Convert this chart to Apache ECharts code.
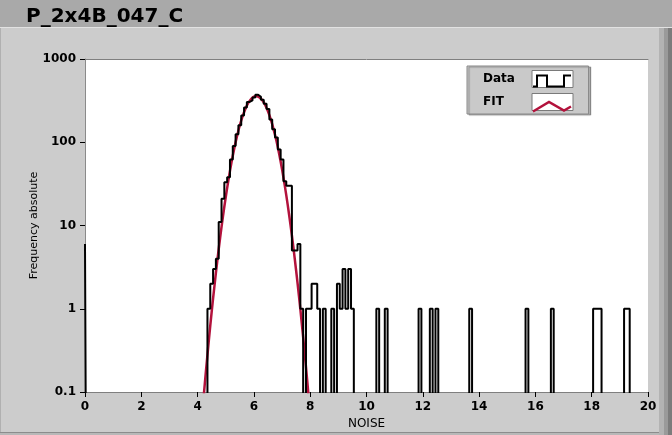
<!DOCTYPE html>
<html><head><meta charset="utf-8">
<script src="https://cdn.jsdelivr.net/npm/echarts@6/dist/echarts.min.js"></script>
<style>html,body{margin:0;padding:0;background:#cccccc}#c{width:672px;height:435px}</style>
</head><body><div id="c"></div><script>
const chartTitle = 'P_2x4B_047_C';
const xAxisName = 'NOISE';
const yAxisName = 'Frequency absolute';
const xTickLabels = ['0','2','4','6','8','10','12','14','16','18','20'];
const yTickLabels = ['0.1','1','10','100','1000'];
const seriesNames = ['Data','FIT'];

// Histogram: bin centres (NOISE) with non-zero counts; all other bins are empty
const dataNoise = [0.0,
  4.4,4.5,4.6,4.7,4.8,4.9,5.0,5.1,5.2,5.3,5.4,5.5,5.6,5.7,5.8,5.9,
  6.0,6.1,6.2,6.3,6.4,6.5,6.6,6.7,6.8,6.9,7.0,7.1,7.2,7.3,7.4,7.5,7.6,7.7,
  7.9,8.0,8.1,8.2,8.3,8.5,8.8,9.0,9.1,9.2,9.3,9.4,9.5,
  10.4,10.7,11.9,12.3,12.5,13.7,15.7,16.6,18.1,18.2,18.3,19.2,19.3];
const dataCounts = [6,
  1,2,3,4,11,21,33,38,62,90,125,160,210,262,305,318,
  345,372,352,325,290,250,188,143,114,82,62,34,30,30,5,5,6,1,
  1,1,2,2,1,1,1,2,1,3,1,3,1,
  1,1,1,1,1,1,1,1,1,1,1,1,1];

// Gaussian fit curve
const fitNoise = [4.2,4.3,4.4,4.5,4.6,4.7,4.8,4.9,5.0,5.1,5.2,5.3,5.4,5.5,5.6,5.7,5.8,5.9,
  6.0,6.1,6.2,6.3,6.4,6.5,6.6,6.7,6.8,6.9,7.0,7.1,7.2,7.3,7.4,7.5,7.6,7.7,7.8,7.9,8.0];
const fitValues = [0.077,0.184,0.42,0.92,1.9,3.77,7.12,12.8,22.0,36.0,56.2,83.6,118.5,160,206,253,297,331,
  353,358,346,319,280,235,188,143,104,71.7,47.3,29.7,17.8,10.2,5.56,2.88,1.43,0.674,0.303,0.13,0.053];

const EMPTY = 1e-3; // stands for an empty bin on the log axis (below the visible range)
const countByBin = {};
dataNoise.forEach((x, i) => { countByBin[Math.round(x * 10)] = dataCounts[i]; });
const histData = [];
for (let k = 0; k <= 200; k++) {
  const c = countByBin[k] || 0;
  histData.push([k / 10, c > 0 ? c : EMPTY]);
}
const fitData = fitNoise.map((x, i) => [x, fitValues[i]]);

const FONT = 'DejaVu Sans';
const chart = echarts.init(document.getElementById('c'), null, {renderer: 'canvas'});

const stepIcon = 'path://M0,0 M41,17 M1,14 L5,14 L5,3 L15,3 L15,14 L32,14 L32,3 L39,3';
const zigIcon = 'path://M0,0 M41,17 M1,12 L17,2.5 L32,11 L39,7';

const legendCommon = {
  orient: 'vertical', left: 467, top: 66, align: 'right',
  itemWidth: 41, itemHeight: 17, itemGap: 5,
  padding: [4, 15, 3, 16],
  selectedMode: false,
  formatter: '{a|{name}}'
};

chart.setOption({
  animation: false,
  backgroundColor: '#cccccc',
  graphic: [
    {type: 'rect', z: -10, shape: {x: 0, y: 0, width: 672, height: 27}, style: {fill: '#a9a9a9'}},
    {type: 'rect', z: -10, shape: {x: 0, y: 27, width: 672, height: 1}, style: {fill: '#e2e2e2'}},
    {type: 'rect', z: -10, shape: {x: 0, y: 28, width: 1, height: 407}, style: {fill: '#b0b0b0'}},
    {type: 'rect', z: -10, shape: {x: 659, y: 28, width: 5, height: 407}, style: {fill: '#b3b3b3'}},
    {type: 'rect', z: -10, shape: {x: 664, y: 28, width: 4, height: 407}, style: {fill: '#9a9a9a'}},
    {type: 'rect', z: -10, shape: {x: 668, y: 28, width: 4, height: 407}, style: {fill: '#7c7c7c'}},
    {type: 'rect', z: -10, shape: {x: 0, y: 432, width: 659, height: 1}, style: {fill: '#8c8c8c'}},
    {type: 'rect', z: -10, shape: {x: 0, y: 433, width: 659, height: 2}, style: {fill: '#b8b8b8'}}
  ],
  title: {
    text: chartTitle, left: 21, top: 2,
    textStyle: {fontFamily: FONT, fontWeight: 'bold', fontSize: 20, color: '#000'}
  },
  legend: [
    Object.assign({}, legendCommon, {
      id: 'legBox', z: 4,
      backgroundColor: '#c9c9c9', borderColor: '#8a8a8a', borderWidth: 1,
      shadowColor: 'rgba(0,0,0,0.3)', shadowOffsetX: 2, shadowOffsetY: 1, shadowBlur: 1,
      icon: 'rect',
      itemStyle: {color: '#ffffff', borderColor: '#7a7a7a', borderWidth: 1},
      textStyle: {rich: {a: {fontFamily: FONT, fontWeight: 'bold', fontSize: 12, color: '#000', width: 44, align: 'left'}}},
      data: seriesNames
    }),
    Object.assign({}, legendCommon, {
      id: 'legIcons', z: 5,
      backgroundColor: 'transparent',
      textStyle: {rich: {a: {fontFamily: FONT, fontWeight: 'bold', fontSize: 12, color: 'rgba(0,0,0,0)', width: 44, align: 'left'}}},
      data: [
        {name: seriesNames[0], icon: stepIcon, itemStyle: {color: 'none', borderColor: '#000000', borderWidth: 2}},
        {name: seriesNames[1], icon: zigIcon, itemStyle: {color: 'none', borderColor: '#b3123c', borderWidth: 2.5}}
      ]
    })
  ],
  grid: {left: 85, right: 24, top: 59, bottom: 43, show: true, backgroundColor: '#ffffff', borderWidth: 0},
  xAxis: [{
    type: 'value', min: 0, max: 20, interval: 2,
    name: xAxisName, nameLocation: 'middle', nameGap: 26, nameMoveOverlap: false,
    nameTextStyle: {fontFamily: FONT, fontSize: 12, color: '#000'},
    axisLine: {show: true, lineStyle: {color: '#7f7f7f', width: 1}},
    axisTick: {show: true, length: 5, lineStyle: {color: '#000'}},
    axisLabel: {fontFamily: FONT, fontWeight: 'bold', fontSize: 12, color: '#000', margin: 9,
      formatter: v => xTickLabels[Math.round(v / 2)]},
    splitLine: {show: false}
  }, {
    type: 'value', position: 'top', min: 0, max: 20,
    axisLine: {show: true, lineStyle: {color: '#7f7f7f', width: 1}},
    axisTick: {show: false}, axisLabel: {show: false}, splitLine: {show: false}
  }],
  yAxis: {
    type: 'log', logBase: 10, min: 0.1, max: 1000,
    name: yAxisName, nameLocation: 'middle', nameGap: 45, nameRotate: 90, nameMoveOverlap: false,
    nameTextStyle: {fontFamily: FONT, fontSize: 11, color: '#000'},
    axisLine: {show: true, lineStyle: {color: '#8a8a8a', width: 1}},
    axisTick: {show: true, length: 5, lineStyle: {color: '#000'}},
    minorTick: {show: false},
    axisLabel: {fontFamily: FONT, fontWeight: 'bold', fontSize: 12, color: '#000', margin: 9,
      formatter: v => yTickLabels[Math.round(Math.log10(v)) + 1]},
    splitLine: {show: false}
  },
  series: [
    {
      name: seriesNames[1], type: 'line', data: fitData, smooth: 0.3,
      showSymbol: false, symbol: 'none', clip: true, z: 2,
      lineStyle: {color: '#b3123c', width: 2.5}, itemStyle: {color: '#b3123c'}
    },
    {
      name: seriesNames[0], type: 'line', data: histData, step: 'middle',
      showSymbol: false, symbol: 'none', clip: true, z: 3,
      lineStyle: {color: '#000000', width: 2}, itemStyle: {color: '#000000'}
    }
  ]
});
</script></body></html>
